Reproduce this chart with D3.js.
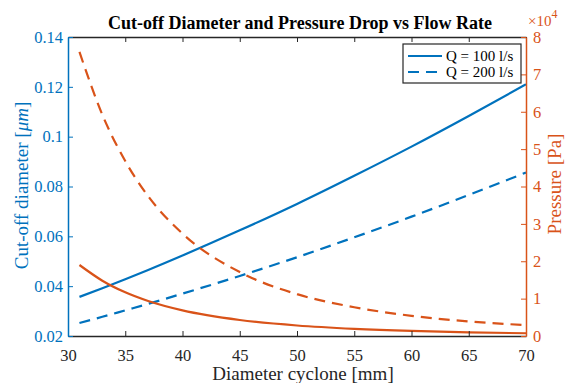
<!DOCTYPE html>
<html><head><meta charset="utf-8">
<script src="https://cdn.jsdelivr.net/npm/d3@7"></script>
<style>body{margin:0;background:#fff}svg{display:block;font-family:"Liberation Serif","Times New Roman",serif}</style>
</head><body><svg id="c" width="567" height="383"></svg>
<script>
const diameters = [31, 33, 35, 37, 40, 45, 50, 55, 60, 65, 70];
const cutoff100 = [0.0357, 0.0392, 0.0428, 0.0465, 0.0523, 0.0624, 0.0730, 0.0843, 0.0960, 0.1083, 0.1210];
const cutoff200 = [0.0252, 0.0277, 0.0303, 0.0329, 0.0370, 0.0441, 0.0516, 0.0596, 0.0679, 0.0766, 0.0856];
const pressure100 = [19000, 14800, 11690, 9360, 6850, 4280, 2810, 1920, 1350, 980, 730];
const pressure200 = [76000, 59200, 46800, 37400, 27400, 17100, 11200, 7700, 5400, 3900, 2900];
const xTicks = [30, 35, 40, 45, 50, 55, 60, 65, 70];
const yLeftTicks = [0.02, 0.04, 0.06, 0.08, 0.1, 0.12, 0.14];
const yRightTicks = [0, 1, 2, 3, 4, 5, 6, 7, 8];
const legendLabels = ["Q = 100 l/s", "Q = 200 l/s"];

const BLUE = "#0072BD", ORANGE = "#D95319", DARK = "#262626";
const m = {l: 68, r: 526, t: 37, b: 336};
const svg = d3.select("#c");
const x = d3.scaleLinear().domain([30, 70]).range([m.l, m.r]);
const yL = d3.scaleLinear().domain([0.02, 0.14]).range([m.b, m.t]);
const yR = d3.scaleLinear().domain([0, 8]).range([m.b, m.t]);
const TL = 5;
const SERIF = "Liberation Serif";
const TICKFS = "16.5px", LABFS = "19px";

// lines
svg.append("clipPath").attr("id","pc").append("rect")
  .attr("x", m.l).attr("y", m.t).attr("width", m.r-m.l).attr("height", m.b-m.t);
const g = svg.append("g").attr("clip-path","url(#pc)");
const lineL = d3.line().x(d=>x(d[0])).y(d=>yL(d[1])).curve(d3.curveMonotoneX);
const lineR = d3.line().x(d=>x(d[0])).y(d=>yR(d[1]/1e4)).curve(d3.curveMonotoneX);
function draw(gen, vals, color, dash){
  g.append("path").attr("d", gen(diameters.map((d,i)=>[d, vals[i]])))
   .attr("fill","none").attr("stroke",color).attr("stroke-width",2.2)
   .attr("stroke-dasharray", dash ? "11,7" : null);
}
draw(lineL, cutoff100, BLUE, false);
draw(lineL, cutoff200, BLUE, true);
draw(lineR, pressure100, ORANGE, false);
draw(lineR, pressure200, ORANGE, true);

// axes
const xb = svg.append("g").attr("transform",`translate(0,${m.b})`)
  .call(d3.axisBottom(x).tickValues(xTicks).tickSizeInner(-TL).tickSizeOuter(0).tickPadding(13).tickFormat(d3.format("d")));
const xt = svg.append("g").attr("transform",`translate(0,${m.t})`)
  .call(d3.axisTop(x).tickValues(xTicks).tickSizeInner(-TL).tickSizeOuter(0).tickFormat(""));
[xb, xt].forEach(a=>{a.attr("font-family",SERIF);
  a.select(".domain").attr("stroke",DARK).attr("stroke-width",1.3);
  a.selectAll(".tick line").attr("stroke",DARK);});
xb.selectAll("text").attr("fill",DARK).style("font-size",TICKFS).style("font-family",SERIF);

const yl = svg.append("g").attr("transform",`translate(${m.l},0)`).attr("font-family",SERIF)
  .call(d3.axisLeft(yL).tickValues(yLeftTicks).tickSizeInner(-TL).tickSizeOuter(0).tickPadding(5).tickFormat(d=>String(+d.toFixed(2))));
yl.attr("font-family",SERIF);
yl.select(".domain").attr("stroke",BLUE).attr("stroke-width",1.5);
yl.selectAll(".tick line").attr("stroke",BLUE);
yl.selectAll("text").attr("fill",BLUE).style("font-size",TICKFS).style("font-family",SERIF);

const yr = svg.append("g").attr("transform",`translate(${m.r},0)`)
  .call(d3.axisRight(yR).tickValues(yRightTicks).tickSizeInner(-TL).tickSizeOuter(0).tickPadding(7).tickFormat(d3.format("d")));
yr.attr("font-family",SERIF);
yr.select(".domain").attr("stroke",ORANGE).attr("stroke-width",1.5);
yr.selectAll(".tick line").attr("stroke",ORANGE);
yr.selectAll("text").attr("fill",ORANGE).style("font-size",TICKFS).style("font-family",SERIF);

// exponent
const ex = svg.append("text").attr("x", 528).attr("y", 26).attr("fill",ORANGE).style("font-size","15px");
ex.append("tspan").text("\u00d710");
ex.append("tspan").attr("dy",-8).style("font-size","12px").text("4");

// title
svg.append("text").attr("x", 300).attr("y", 29).attr("text-anchor","middle")
  .style("font-size","18px").style("font-weight","bold").attr("fill","#000")
  .text("Cut-off Diameter and Pressure Drop vs Flow Rate");

// axis labels
svg.append("text").attr("x", (m.l+m.r)/2 + 6).attr("y", 380).attr("text-anchor","middle")
  .style("font-size",LABFS).attr("fill",DARK).text("Diameter cyclone [mm]");
const ylab = svg.append("text").attr("transform",`translate(28,185.5) rotate(-90)`)
  .attr("text-anchor","middle").style("font-size",LABFS).attr("fill",BLUE);
ylab.append("tspan").text("Cut-off diameter [");
ylab.append("tspan").style("font-style","italic").text("\u03bcm");
ylab.append("tspan").text("]");
svg.append("text").attr("transform",`translate(561,184) rotate(-90)`)
  .attr("text-anchor","middle").style("font-size",LABFS).attr("fill",ORANGE).text("Pressure [Pa]");

// legend
const lg = svg.append("g");
lg.append("rect").attr("x",403).attr("y",44).attr("width",118).attr("height",39)
  .attr("fill","#fff").attr("stroke",DARK).attr("stroke-width",1.2);
legendLabels.forEach((t,i)=>{
  const yy = 56 + i*16;
  lg.append("line").attr("x1",408).attr("x2",442).attr("y1",yy).attr("y2",yy)
    .attr("stroke",BLUE).attr("stroke-width",2.2).attr("stroke-dasharray", i ? "11,7" : null);
  lg.append("text").attr("x",446).attr("y",yy+5).style("font-size","15px").attr("fill","#000").text(t);
});
</script></body></html>
